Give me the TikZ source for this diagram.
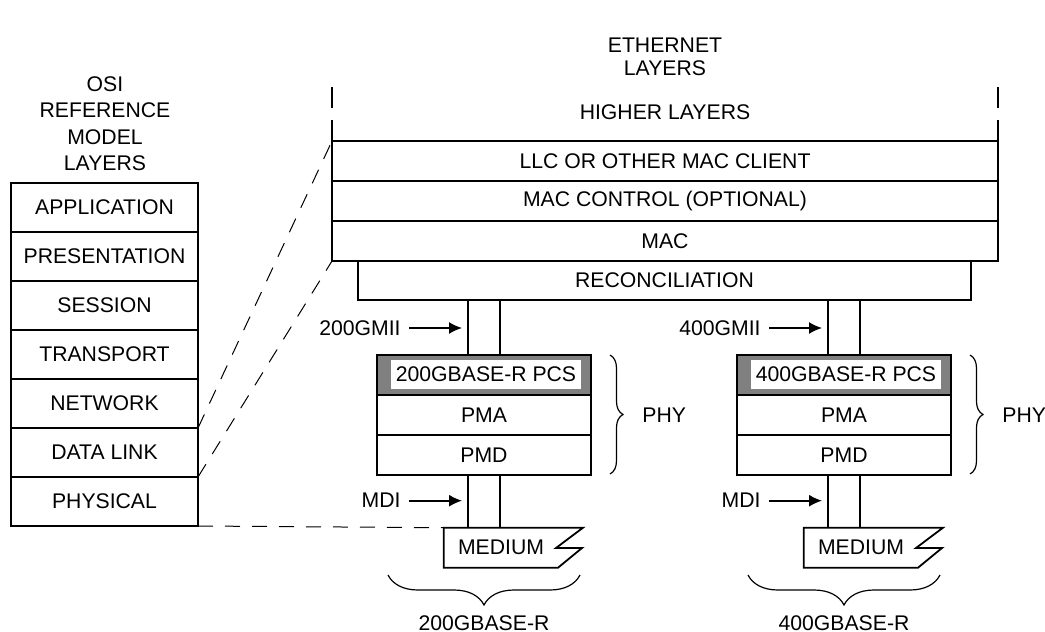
\documentclass[tikz,border=0pt]{standalone}
\usepackage{fontspec}
\setmainfont{Liberation Sans}
\usetikzlibrary{arrows.meta,calc,decorations.pathreplacing,positioning}
\definecolor{pcsgray}{RGB}{128,128,128}
\tikzset{%
	layer/.style    = {draw, line width=0.9pt, inner sep=0pt, outer sep=0pt, minimum height=20pt, text centered},
	osilayer/.style = {layer, minimum width=93.5pt, minimum height=24.5pt},
	ethlayer/.style = {layer, minimum width=333pt},
	phylayer/.style = {layer, minimum width=107pt},
	pcsbox/.style   = {phylayer, fill=pcsgray},
	pcstext/.style  = {fill=white, inner sep=0pt, minimum width=95pt, minimum height=14.5pt},
	lbl/.style      = {inner sep=0pt},
	link/.style     = {line width=0.9pt},
	arrow/.style    = {line width=0.8pt, -{Latex[length=6.5pt,width=6pt]}},
	mapline/.style  = {line width=0.5pt, dash pattern=on 7.5pt off 6pt},
	brc/.style      = {decorate, decoration={brace, amplitude=#1}, line width=0.6pt},
}

\begin{document}
\begin{tikzpicture}[x=0.5pt, y=-0.5pt, font=\fontsize{10.6}{13.2}\selectfont]
	\useasboundingbox (0,0) rectangle (1045,632);
	% OSI reference model
	\node[align=center] (osihead) at (105,123.5) {OSI\\REFERENCE\\MODEL\\LAYERS};
	\node[osilayer] (app) at (104.5,207.5) {APPLICATION};
	\node[osilayer, below=0pt of app] (pres) {PRESENTATION};
	\node[osilayer, below=0pt of pres] (sess) {SESSION};
	\node[osilayer, below=0pt of sess] (trans) {TRANSPORT};
	\node[osilayer, below=0pt of trans] (net) {NETWORK};
	\node[osilayer, below=0pt of net] (dl) {DATA LINK};
	\node[osilayer, below=0pt of dl] (phys) {PHYSICAL};
	
	% Ethernet layers
	\node[align=center, font=\fontsize{10.6}{11.6}\selectfont] (ethhead) at (665,56.5) {ETHERNET\\LAYERS};
	\node (higher) at (665,112) {HIGHER LAYERS};
	\node[ethlayer] (llc) at (665,161) {LLC OR OTHER MAC CLIENT};
	\node[ethlayer, below=0pt of llc] (macctl) {MAC CONTROL (OPTIONAL)};
	\node[ethlayer, below=0pt of macctl] (mac) {MAC};
	\node[layer, minimum width=306.5pt, minimum height=19.5pt, anchor=north] (recon) at (664.5,261) {RECONCILIATION};
	\draw[link] (llc.north west) -- ++(0,-21) ++(0,-12) -- ++(0,-21);
	\draw[link] (llc.north east) -- ++(0,-21) ++(0,-12) -- ++(0,-21);
	
	% the two PHYs
	\foreach \cx/\rate in {484/200,844/400}{
		\node[pcsbox] (pcs\rate) at (\cx,375) {};
		\node[pcstext] at (\cx+2,374.5) {\rate GBASE-R PCS};
		\node[phylayer, below=0pt of pcs\rate] (pma\rate) {PMA};
		\node[phylayer, below=0pt of pma\rate] (pmd\rate) {PMD};
		\draw[link] ([xshift=-8pt]pcs\rate.north) -- ([xshift=-8pt]pcs\rate.north |- recon.south);
		\draw[link] ([xshift=8pt]pcs\rate.north) -- ([xshift=8pt]pcs\rate.north |- recon.south);
		% medium
		\coordinate (medtl\rate) at (\cx-40.3,527.7);
		\node (med\rate) at (\cx+17,547.7) {MEDIUM};
		\draw[link] (medtl\rate) -- (\cx+99,527.7) -- (\cx+72,548) -- (\cx+98,548) -- (\cx+74,567.7) -- (\cx-40.3,567.7) -- cycle;
		\draw[link] ([xshift=-8pt]pmd\rate.south) -- ([xshift=-8pt]pmd\rate.south |- medtl\rate);
		\draw[link] ([xshift=8pt]pmd\rate.south) -- ([xshift=8pt]pmd\rate.south |- medtl\rate);
		% interfaces
		\node[lbl, anchor=east] (gmii\rate) at (\cx-83,328) {\rate GMII};
		\draw[arrow] ([xshift=4pt]gmii\rate.east) -- ([xshift=-11pt]pcs\rate.north |- gmii\rate.east);
		\node[lbl, anchor=east] (mdi\rate) at (\cx-83,500.7) {MDI};
		\draw[arrow] ([xshift=4pt]mdi\rate.east) -- ([xshift=-11pt]pmd\rate.south |- mdi\rate.east);
		% braces
		\draw[brc=6.5pt] (\cx+126,355) -- (\cx+126,474);
		\node[lbl, anchor=west] (phy\rate) at (\cx+158,415) {PHY};
		\draw[brc=15pt] (\cx+96,575) -- (\cx-96,575);
		\node (base\rate) at (\cx,623) {\rate GBASE-R};
	}
	
	% mapping OSI to Ethernet
	\draw[mapline] (net.south east) -- (llc.north west);
	\draw[mapline] (dl.south east) -- (mac.south west);
	\draw[mapline] (phys.south east) -- (medtl200);
\end{tikzpicture}
\end{document}
